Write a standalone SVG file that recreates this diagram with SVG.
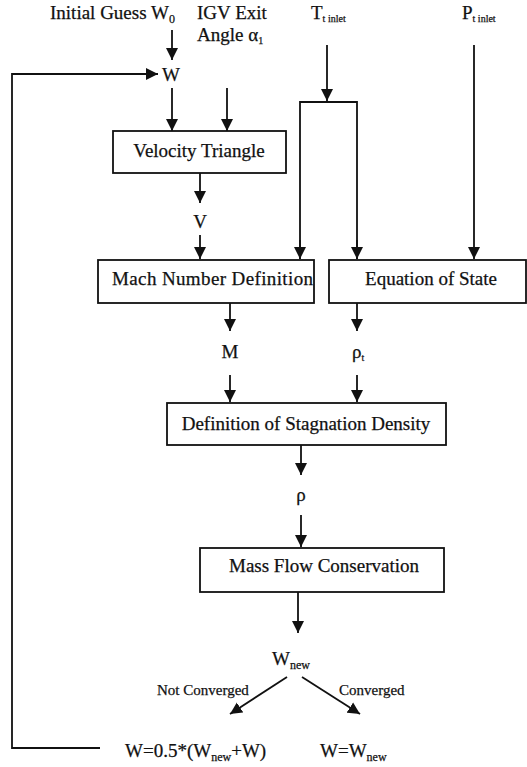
<svg xmlns="http://www.w3.org/2000/svg" width="527" height="767" viewBox="0 0 527 767">
  <style>
    text { font-family: "Liberation Serif", "Times New Roman", serif; fill: #111; stroke: #111; stroke-width: 0.25; }
    .t { font-size: 19px; }
    .lbl { font-size: 15px; }
    .sub { font-size: 12px; }
    .tiny { font-size: 10px; }
    .box { fill: #fff; stroke: #111; stroke-width: 1.8; }
    .ln { fill: none; stroke: #111; stroke-width: 1.8; }
  </style>
  <defs>
    <marker id="ah" markerUnits="userSpaceOnUse" markerWidth="14" markerHeight="13" refX="12" refY="6.5" orient="auto">
      <path d="M0,0.5 L12,6.5 L0,12.5 z" fill="#111"/>
    </marker>
  </defs>
  <rect width="527" height="767" fill="#fff"/>

  <!-- inputs -->
  <g id="initial-guess">
    <text class="t" x="50" y="19">Initial Guess W<tspan class="sub" dy="4">0</tspan></text>
  </g>
  <g id="igv-angle">
    <text class="t" x="197" y="19">IGV Exit</text>
    <text class="t" x="197" y="41">Angle α<tspan class="tiny" dy="3">1</tspan></text>
  </g>
  <g id="t-inlet">
    <text class="t" x="311" y="19">T<tspan class="tiny" dy="3">t inlet</tspan></text>
  </g>
  <g id="p-inlet">
    <text class="t" x="462" y="19">P<tspan class="tiny" dy="3">t inlet</tspan></text>
  </g>
  <g id="w">
    <text class="t" x="171" y="81" text-anchor="middle">W</text>
  </g>

  <!-- process boxes -->
  <g id="velocity-triangle">
    <rect class="box" x="113" y="131" width="173" height="42"/>
    <text class="t" x="199" y="157" text-anchor="middle">Velocity Triangle</text>
  </g>
  <g id="v">
    <text class="t" x="200" y="228" text-anchor="middle">V</text>
  </g>
  <g id="mach-number">
    <rect class="box" x="98" y="260" width="216" height="43"/>
    <text class="t" x="112" y="285" textLength="201">Mach Number Definition</text>
  </g>
  <g id="equation-of-state">
    <rect class="box" x="329" y="260" width="197" height="43"/>
    <text class="t" x="431" y="285" text-anchor="middle">Equation of State</text>
  </g>
  <g id="m">
    <text class="t" x="230" y="358" text-anchor="middle">M</text>
  </g>
  <g id="rho-t">
    <text class="t" x="352" y="358">ρ<tspan class="tiny" dy="3">t</tspan></text>
  </g>
  <g id="stagnation-density">
    <rect class="box" x="167" y="403" width="279" height="42"/>
    <text class="t" x="306" y="430" text-anchor="middle">Definition of Stagnation Density</text>
  </g>
  <g id="rho">
    <text class="t" x="301" y="501" text-anchor="middle">ρ</text>
  </g>
  <g id="mass-flow">
    <rect class="box" x="200" y="548" width="244" height="44"/>
    <text class="t" x="324" y="572" text-anchor="middle">Mass Flow Conservation</text>
  </g>
  <g id="w-new">
    <text class="t" x="272" y="665">W<tspan class="sub" dy="4">new</tspan></text>
  </g>
  <g id="update-relaxed">
    <text class="t" x="125" y="757">W=0.5*(W<tspan class="sub" dy="4">new</tspan><tspan dy="-4">+W)</tspan></text>
  </g>
  <g id="update-converged">
    <text class="t" x="320" y="757">W=W<tspan class="sub" dy="4">new</tspan></text>
  </g>

  <!-- connectors -->
  <g id="connectors">
    <line class="ln" x1="172" y1="30" x2="172" y2="60" marker-end="url(#ah)"/>
    <polyline class="ln" points="100,748 12,748 12,74 158,74" marker-end="url(#ah)"/>
    <line class="ln" x1="172" y1="88" x2="172" y2="131" marker-end="url(#ah)"/>
    <line class="ln" x1="227" y1="88" x2="227" y2="131" marker-end="url(#ah)"/>
    <line class="ln" x1="200" y1="173" x2="200" y2="203" marker-end="url(#ah)"/>
    <line class="ln" x1="200" y1="235" x2="200" y2="259" marker-end="url(#ah)"/>
    <line class="ln" x1="327" y1="45" x2="327" y2="101" marker-end="url(#ah)"/>
    <polyline class="ln" points="300,259 300,102 357,102 357,259"/>
    <line class="ln" x1="300" y1="240" x2="300" y2="259" marker-end="url(#ah)"/>
    <line class="ln" x1="357" y1="240" x2="357" y2="259" marker-end="url(#ah)"/>
    <line class="ln" x1="474" y1="45" x2="474" y2="259" marker-end="url(#ah)"/>
    <line class="ln" x1="230" y1="303" x2="230" y2="331" marker-end="url(#ah)"/>
    <line class="ln" x1="357" y1="303" x2="357" y2="331" marker-end="url(#ah)"/>
    <line class="ln" x1="230" y1="375" x2="230" y2="402" marker-end="url(#ah)"/>
    <line class="ln" x1="357" y1="375" x2="357" y2="402" marker-end="url(#ah)"/>
    <line class="ln" x1="301" y1="445" x2="301" y2="475" marker-end="url(#ah)"/>
    <line class="ln" x1="301" y1="515" x2="301" y2="547" marker-end="url(#ah)"/>
    <line class="ln" x1="298" y1="592" x2="298" y2="633" marker-end="url(#ah)"/>
    <line class="ln" x1="287" y1="677" x2="230" y2="714" marker-end="url(#ah)"/>
    <line class="ln" x1="302" y1="677" x2="360" y2="714" marker-end="url(#ah)"/>
    <text class="lbl" x="157" y="695">Not Converged</text>
    <text class="lbl" x="339" y="695">Converged</text>
  </g>
</svg>
